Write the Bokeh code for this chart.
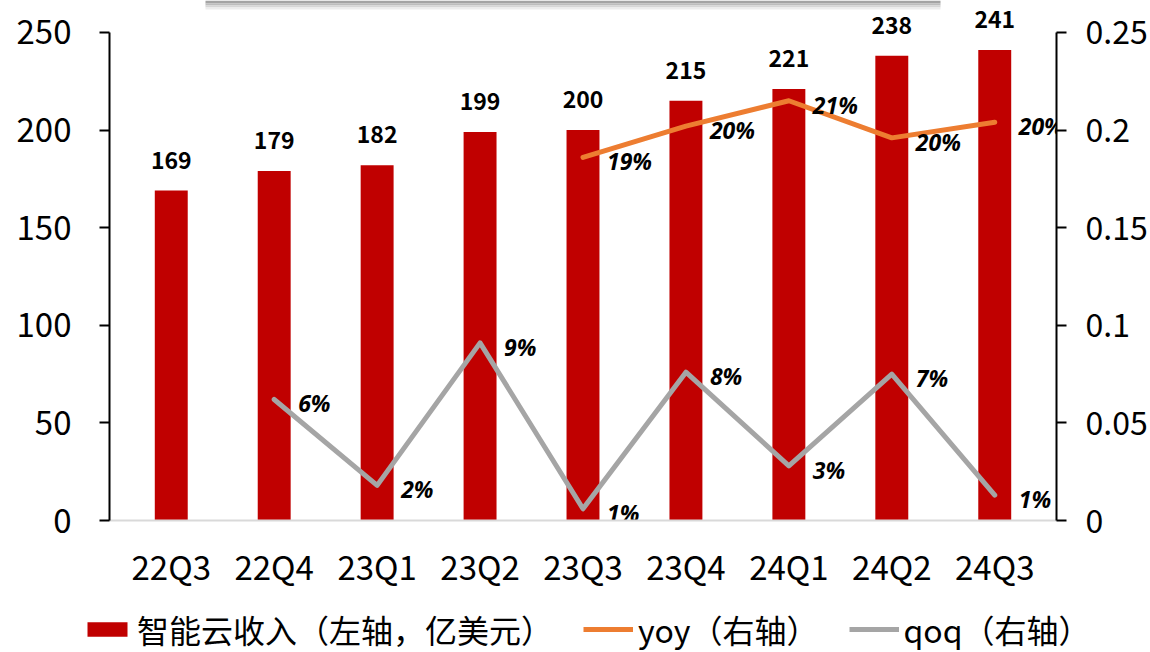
from bokeh.plotting import figure
from bokeh.layouts import column
from bokeh.models import (ColumnDataSource, Range1d, LinearAxis, FixedTicker,
                          CustomJSTickFormatter, Legend, LegendItem, FactorRange,
                          BoxAnnotation)
from bokeh.core.properties import value
from bokeh.embed import file_html
from bokeh.resources import INLINE

# ---- data ----
quarters = ["22Q3", "22Q4", "23Q1", "23Q2", "23Q3", "23Q4", "24Q1", "24Q2", "24Q3"]
revenue = [169, 179, 182, 199, 200, 215, 221, 238, 241]

yoy_quarters = ["23Q3", "23Q4", "24Q1", "24Q2", "24Q3"]
yoy = [0.186, 0.202, 0.215, 0.196, 0.204]
yoy_labels = ["19%", "20%", "21%", "20%", "20%"]

qoq_quarters = ["22Q4", "23Q1", "23Q2", "23Q3", "23Q4", "24Q1", "24Q2", "24Q3"]
qoq = [0.062, 0.018, 0.091, 0.006, 0.076, 0.028, 0.075, 0.013]
qoq_labels = ["6%", "2%", "9%", "1%", "8%", "3%", "7%", "1%"]

left_ticks = [0, 50, 100, 150, 200, 250]
right_ticks = [0, 0.05, 0.1, 0.15, 0.2, 0.25]
LEFT_MAX, RIGHT_MAX = 250, 0.25

legend_labels = ["智能云收入（左轴，亿美元）", "yoy（右轴）", "qoq（右轴）"]

# ---- styles ----
RED = "#C00000"
ORANGE = "#ED7D31"
GRAY = "#A5A5A5"
CJK = "Noto Sans CJK SC"
HEADROOM = 1 + 32 / 489   # room above the axis top for the value labels

bar_src = ColumnDataSource(dict(q=quarters, v=revenue, t=[str(v) for v in revenue]))
yoy_src = ColumnDataSource(dict(q=yoy_quarters, v=yoy, t=yoy_labels))
qoq_src = ColumnDataSource(dict(q=qoq_quarters, v=qoq, t=qoq_labels))

p = figure(
    x_range=FactorRange(factors=quarters, range_padding=0.1, range_padding_units="absolute"),
    y_range=Range1d(0, LEFT_MAX * HEADROOM),
    width=1150, height=592,
    output_backend="svg", toolbar_location=None,
    min_border_left=109, min_border_right=93, min_border_top=0, min_border_bottom=71,
)
p.extra_y_ranges = {"pct": Range1d(0, RIGHT_MAX * HEADROOM)}
p.outline_line_color = None
p.xgrid.grid_line_color = None
p.ygrid.grid_line_color = None
p.background_fill_color = "white"
p.border_fill_color = "white"

# faint shadow of a box cut off at the top edge
for (y0, y1, c) in [(0, 3, "#a4a4a4"), (3, 5, "#bdbdbd"), (5, 7, "#d6d6d6"), (7, 9, "#ededed")]:
    p.add_layout(BoxAnnotation(left=205, right=940, top=y0, bottom=y1,
                               left_units="canvas", right_units="canvas",
                               top_units="canvas", bottom_units="canvas",
                               fill_color=c, fill_alpha=1.0, line_color=None,
                               level="underlay"))

# left axis
ya = p.yaxis[0]
ya.ticker = FixedTicker(ticks=left_ticks)
ya.bounds = (0, LEFT_MAX)
ya.axis_line_color = "black"
ya.axis_line_width = 2
ya.major_tick_line_color = "black"
ya.major_tick_line_width = 2
ya.major_tick_out = 10
ya.major_tick_in = 0
ya.minor_tick_line_color = None
ya.major_label_standoff = 28
ya.major_label_text_font = CJK
ya.major_label_text_font_size = "33px"
ya.major_label_text_color = "black"

# right axis
ra = LinearAxis(y_range_name="pct", ticker=FixedTicker(ticks=right_ticks),
                bounds=(0, RIGHT_MAX),
                formatter=CustomJSTickFormatter(code="return String(Number(tick.toFixed(2)));"))
ra.axis_line_color = "black"
ra.axis_line_width = 2
ra.major_tick_line_color = "black"
ra.major_tick_line_width = 2
ra.major_tick_out = 10
ra.major_tick_in = 0
ra.minor_tick_line_color = None
ra.major_label_standoff = 19
ra.major_label_text_font = CJK
ra.major_label_text_font_size = "32px"
ra.major_label_text_color = "black"
p.add_layout(ra, "right")

# x axis
xa = p.xaxis[0]
xa.axis_line_color = "#D9D9D9"
xa.axis_line_width = 2
xa.major_tick_line_color = None
xa.minor_tick_line_color = None
xa.major_label_standoff = 15
xa.major_label_text_font = CJK
xa.major_label_text_font_size = "33px"
xa.major_label_text_color = "black"

# bars
bars = p.vbar(x="q", top="v", width=0.32, source=bar_src, fill_color=RED, line_color=None)
p.text(x="q", y="v", text="t", source=bar_src, text_align="center", text_baseline="bottom",
       y_offset=-22, text_font=value(CJK), text_font_style="bold", text_font_size="23px",
       text_color="black")

# lines
yoy_line = p.line(x="q", y="v", source=yoy_src, y_range_name="pct", line_color=ORANGE,
                  line_width=5, line_cap="round", line_join="round")
qoq_line = p.line(x="q", y="v", source=qoq_src, y_range_name="pct", line_color=GRAY,
                  line_width=5, line_cap="round", line_join="round")

for src in (yoy_src, qoq_src):
    p.text(x="q", y="v", text="t", source=src, y_range_name="pct", text_align="left",
           text_baseline="middle", x_offset=24, y_offset=4, text_font=value("Noto Sans"),
           text_font_style="bold italic", text_font_size="23px", text_color="black")

# legend strip: same series, drawn far outside its visible range so only the legend shows
lf = figure(width=1150, height=60, x_range=FactorRange(factors=quarters),
            y_range=Range1d(1e6, 1e6 + 1), output_backend="svg", toolbar_location=None,
            x_axis_location=None, y_axis_location=None, min_border=0,
            min_border_left=0, min_border_right=0, min_border_top=0, min_border_bottom=0)
lf.outline_line_color = None
lf.grid.visible = False
lf.background_fill_color = "white"
lf.border_fill_color = "white"
for plot in (p, lf):
    if "frame_align" in plot.properties():
        plot.frame_align = False
lg_bar = lf.vbar(x="q", top="v", width=0.32, source=bar_src, fill_color=RED, line_color=None)
lg_yoy = lf.line(x="q", y="v", source=yoy_src, line_color=ORANGE, line_width=5)
lg_qoq = lf.line(x="q", y="v", source=qoq_src, line_color=GRAY, line_width=5)

legend = Legend(
    items=[LegendItem(label=legend_labels[0], renderers=[lg_bar]),
           LegendItem(label=legend_labels[1], renderers=[lg_yoy]),
           LegendItem(label=legend_labels[2], renderers=[lg_qoq])],
    location=(82, 0), orientation="horizontal",
    label_text_font=CJK, label_text_font_size="32px", label_text_color="black",
    glyph_width=50, glyph_height=18, label_standoff=5, spacing=30,
    padding=0, margin=0, border_line_color=None, background_fill_alpha=0,
)
lf.add_layout(legend)

layout = column(p, lf, spacing=0)
open("out.html", "w").write(file_html(layout, INLINE))
